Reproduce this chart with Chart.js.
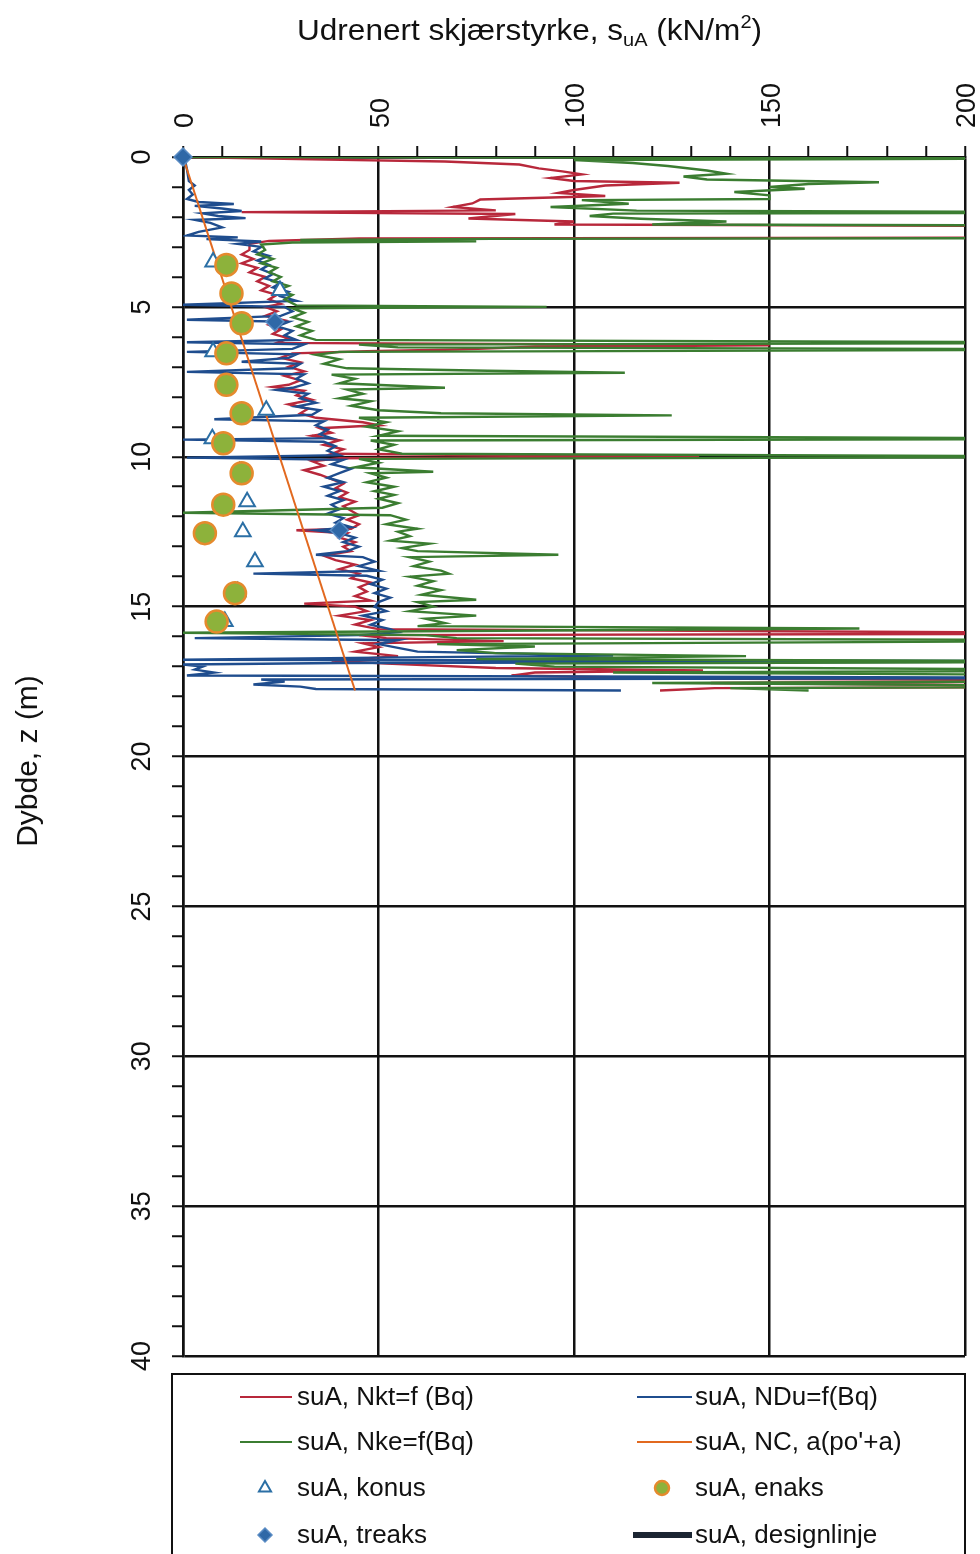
<!DOCTYPE html>
<html>
<head>
<meta charset="utf-8">
<script src="https://cdn.jsdelivr.net/npm/chart.js@4.4.0/dist/chart.umd.min.js"></script>
<style>
  html, body { margin: 0; padding: 0; background: #fff; }
</style>
</head>
<body>
<canvas id="mychart" width="980" height="1554"></canvas>
<script>
// tick labels
const xTickLabels = [0, 50, 100, 150, 200];
const yTickLabels = [0, 5, 10, 15, 20, 25, 30, 35, 40];

// CPT profiles, [depth (m), suA (kN/m2)]
const nktProfile = [
  [0.00, 0], [0.08, 33], [0.15, 67], [0.25, 86], [0.38, 91], [0.48, 97], [0.58, 102], [0.70, 94],
  [0.80, 100], [0.86, 127], [0.95, 108], [1.10, 100], [1.20, 96], [1.30, 108], [1.42, 76], [1.55, 74],
  [1.67, 69], [1.78, 80], [1.84, 15], [1.90, 85], [2.05, 73], [2.15, 100], [2.25, 95], [2.32, 260],
  [2.68, 260], [2.72, 45], [2.80, 22], [2.90, 17], [3.10, 17], [3.25, 15], [3.40, 18], [3.55, 15],
  [3.70, 19], [3.85, 17], [4.00, 21], [4.15, 19], [4.30, 22], [4.45, 20], [4.60, 24], [4.75, 22],
  [4.90, 25], [5.00, 21], [5.15, 24], [5.30, 21], [5.45, 26], [5.60, 22], [5.75, 25], [5.90, 23],
  [6.05, 27], [6.20, 24], [6.28, 150], [6.33, 90], [6.42, 70], [6.48, 47], [6.55, 28], [6.70, 25],
  [6.85, 30], [7.00, 27], [7.15, 31], [7.30, 26], [7.45, 30], [7.60, 27], [7.67, 23], [7.80, 31],
  [7.95, 29], [8.10, 33], [8.25, 27], [8.40, 32], [8.55, 30], [8.70, 34], [8.85, 46], [8.95, 50],
  [9.05, 35], [9.20, 38], [9.30, 33], [9.45, 40], [9.60, 36], [9.75, 41], [9.90, 38], [10.00, 132],
  [10.05, 40], [10.15, 33], [10.30, 36], [10.45, 31], [10.60, 35], [10.75, 38], [10.90, 41], [11.05, 39],
  [11.20, 42], [11.35, 40], [11.50, 44], [11.65, 41], [11.80, 43], [11.95, 45], [12.10, 42], [12.25, 45],
  [12.40, 43], [12.45, 29], [12.55, 42], [12.70, 40], [12.85, 44], [13.00, 41], [13.15, 43], [13.30, 36],
  [13.45, 39], [13.60, 44], [13.75, 40], [13.90, 45], [14.05, 43], [14.20, 48], [14.35, 45], [14.50, 47],
  [14.65, 44], [14.80, 48], [14.90, 31], [15.00, 44], [15.15, 47], [15.30, 40], [15.45, 48], [15.60, 44],
  [15.75, 50], [15.90, 260], [15.95, 45], [16.05, 52], [16.15, 82], [16.22, 46], [16.35, 50], [16.50, 44],
  [16.65, 55], [16.80, 38], [16.90, 52], [17.05, 80], [17.13, 133], [17.20, 90], [17.30, 84], [17.40, 129],
  [17.47, 260], [17.55, 135], [17.67, 260], [17.72, 136], [17.80, 122]
];

const nduProfile = [
  [0.00, 0], [0.10, 0.5], [0.40, 1], [0.80, 1.5], [0.95, 3], [1.10, 1.5], [1.25, 2.5], [1.40, 1],
  [1.50, 4], [1.57, 13], [1.63, 3], [1.72, 10], [1.80, 15], [1.88, 5], [1.97, 9], [2.04, 16],
  [2.10, 3], [2.20, 7], [2.35, 10], [2.50, 4], [2.62, 1], [2.68, 14], [2.74, 6], [2.82, 20],
  [2.90, 14], [3.00, 20], [3.15, 18], [3.30, 22], [3.45, 19], [3.60, 22], [3.75, 20], [3.90, 23],
  [4.05, 21], [4.20, 25], [4.35, 23], [4.50, 27], [4.65, 25], [4.80, 29], [4.93, 0], [5.00, 26],
  [5.15, 28], [5.30, 25], [5.43, 1], [5.50, 27], [5.65, 24], [5.80, 28], [5.95, 26], [6.10, 29],
  [6.18, 1], [6.25, 31], [6.40, 28], [6.50, 1], [6.58, 29], [6.70, 27], [6.83, 15], [6.90, 30],
  [7.05, 28], [7.17, 1], [7.25, 31], [7.40, 29], [7.55, 32], [7.70, 28], [7.77, 24], [7.90, 32],
  [8.05, 30], [8.20, 34], [8.33, 29], [8.45, 35], [8.60, 33], [8.75, 8], [8.82, 36], [8.95, 34],
  [9.10, 37], [9.25, 35], [9.38, 38], [9.43, 0], [9.50, 36], [9.65, 39], [9.80, 37], [9.95, 40],
  [10.03, 1], [10.10, 41], [10.25, 38], [10.40, 43], [10.55, 40], [10.70, 37], [10.85, 41], [11.00, 36],
  [11.15, 40], [11.30, 37], [11.45, 41], [11.60, 38], [11.75, 40], [11.90, 37], [12.05, 41], [12.20, 39],
  [12.35, 43], [12.45, 34], [12.55, 40], [12.70, 44], [12.85, 41], [13.00, 45], [13.15, 42], [13.27, 34],
  [13.35, 46], [13.50, 49], [13.65, 45], [13.80, 50], [13.90, 18], [13.97, 47], [14.10, 51], [14.25, 48],
  [14.40, 52], [14.55, 49], [14.70, 53], [14.85, 50], [15.00, 49], [15.15, 52], [15.30, 46], [15.45, 51],
  [15.60, 48], [15.75, 53], [15.85, 55], [15.95, 45], [16.05, 3], [16.12, 55], [16.25, 50], [16.40, 56],
  [16.50, 60], [16.63, 110], [16.70, 50], [16.77, 0], [16.83, 260], [16.88, 40], [16.93, 0], [17.00, 5],
  [17.10, 3], [17.20, 8], [17.30, 1], [17.38, 260], [17.43, 20], [17.50, 26], [17.60, 18], [17.67, 30],
  [17.75, 34], [17.80, 112]
];

const nkeProfile = [
  [0.00, 0], [0.03, 260], [0.10, 100], [0.20, 115], [0.30, 124], [0.45, 134], [0.56, 139], [0.65, 128],
  [0.75, 134], [0.84, 178], [0.90, 160], [1.00, 150], [1.06, 159], [1.17, 141], [1.28, 150], [1.40, 150],
  [1.44, 102], [1.56, 114], [1.67, 94], [1.79, 116], [1.85, 260], [1.89, 110], [1.97, 104], [2.06, 117],
  [2.15, 139], [2.25, 120], [2.30, 260], [2.70, 260], [2.73, 79], [2.77, 30], [2.81, 75], [2.85, 28],
  [2.92, 20], [3.10, 21], [3.25, 19], [3.40, 23], [3.55, 20], [3.70, 24], [3.85, 22], [4.00, 25],
  [4.15, 23], [4.30, 27], [4.45, 24], [4.60, 28], [4.75, 26], [4.95, 29], [5.00, 93], [5.05, 28],
  [5.20, 31], [5.35, 28], [5.50, 32], [5.65, 29], [5.80, 33], [5.95, 30], [6.10, 34], [6.20, 260],
  [6.26, 45], [6.35, 55], [6.42, 260], [6.50, 40], [6.60, 34], [6.75, 40], [6.90, 36], [7.05, 42],
  [7.13, 78], [7.20, 113], [7.26, 38], [7.40, 44], [7.55, 40], [7.70, 67], [7.76, 42], [7.90, 46],
  [8.05, 40], [8.15, 48], [8.30, 43], [8.45, 50], [8.55, 66], [8.62, 125], [8.70, 45], [8.85, 52],
  [9.00, 47], [9.15, 55], [9.30, 50], [9.40, 260], [9.46, 48], [9.60, 54], [9.75, 50], [9.90, 56],
  [10.00, 260], [10.07, 45], [10.20, 50], [10.35, 44], [10.50, 64], [10.55, 48], [10.70, 52], [10.85, 47],
  [11.00, 54], [11.15, 49], [11.27, 54], [11.40, 50], [11.55, 55], [11.70, 51], [11.87, 0], [11.95, 53],
  [12.10, 57], [12.25, 52], [12.40, 60], [12.50, 55], [12.65, 58], [12.80, 53], [12.90, 63], [13.05, 56],
  [13.15, 60], [13.27, 96], [13.35, 58], [13.50, 63], [13.65, 59], [13.80, 66], [13.90, 68], [14.00, 58],
  [14.15, 64], [14.30, 60], [14.45, 66], [14.60, 61], [14.77, 75], [14.85, 60], [15.00, 64], [15.15, 58],
  [15.30, 75], [15.40, 62], [15.55, 67], [15.65, 60], [15.73, 173], [15.87, 0], [15.95, 62], [16.05, 70],
  [16.13, 260], [16.25, 65], [16.33, 90], [16.45, 70], [16.55, 80], [16.65, 144], [16.75, 75], [16.83, 260],
  [16.90, 85], [17.00, 95], [17.13, 260], [17.20, 110], [17.30, 260], [17.47, 260], [17.55, 120], [17.67, 260],
  [17.72, 140], [17.80, 160]
];

// NC line a(po'+a)
const ncLine = [[0, 0], [17.8, 44]];

// laboratory / cone points, [depth, suA]
const konusPoints = [
  [3.5, 7.7], [4.45, 24.8], [6.5, 7.7], [8.45, 21.3], [9.4, 7.5], [10.5, 14.5],
  [11.5, 16.4], [12.5, 15.3], [13.5, 18.4], [14.5, 14], [15.5, 10.7]
];
const enaksPoints = [
  [3.6, 11.1], [4.55, 12.4], [5.55, 15], [6.55, 11.1], [7.6, 11.1], [8.55, 15],
  [9.55, 10.3], [10.55, 15], [11.6, 10.3], [12.55, 5.6], [14.55, 13.3], [15.5, 8.6]
];
const treaksPoints = [[0, 0], [5.5, 23.5], [12.45, 40]];
const designLine = [];

const FONT = '"Liberation Sans", Arial, sans-serif';

function toXY(list) {
  return list.map(p => ({ x: p[1], y: p[0] }));
}

const decor = {
  id: 'decor',
  afterDraw(chart) {
    const ctx = chart.ctx;
    const ys = chart.scales.y;

    // y tick labels, rotated
    ctx.save();
    ctx.fillStyle = '#111';
    ctx.font = '27px ' + FONT;
    ctx.textAlign = 'center';
    ctx.textBaseline = 'middle';
    yTickLabels.forEach(v => {
      ctx.save();
      ctx.translate(143, ys.getPixelForValue(v));
      ctx.rotate(-Math.PI / 2);
      ctx.fillText(String(v), 0, 0);
      ctx.restore();
    });
    ctx.restore();

    // y title
    ctx.save();
    ctx.fillStyle = '#111';
    ctx.font = '30px ' + FONT;
    ctx.textAlign = 'center';
    ctx.textBaseline = 'middle';
    ctx.translate(29, 761);
    ctx.rotate(-Math.PI / 2);
    ctx.fillText('Dybde, z (m)', 0, 0);
    ctx.restore();

    // x title with sub/superscript
    const parts = [
      { t: 'Udrenert skjærstyrke, s', s: 30, dy: 0 },
      { t: 'uA', s: 19, dy: 6 },
      { t: ' (kN/m', s: 30, dy: 0 },
      { t: '2', s: 19, dy: -12 },
      { t: ')', s: 30, dy: 0 }
    ];
    ctx.save();
    let w = 0;
    parts.forEach(p => { ctx.font = p.s + 'px ' + FONT; w += ctx.measureText(p.t).width; });
    const sx = 465 / w;
    ctx.translate(297, 40);
    ctx.scale(sx, 1);
    ctx.fillStyle = '#111';
    ctx.textBaseline = 'alphabetic';
    let cx = 0;
    parts.forEach(p => {
      ctx.font = p.s + 'px ' + FONT;
      ctx.fillText(p.t, cx, p.dy);
      cx += ctx.measureText(p.t).width;
    });
    ctx.restore();

    // legend box
    ctx.save();
    ctx.strokeStyle = '#111';
    ctx.lineWidth = 2;
    ctx.strokeRect(172, 1374, 793, 200);
    ctx.font = '26px ' + FONT;
    ctx.textBaseline = 'middle';
    ctx.fillStyle = '#111';
    const ds = chart.data.datasets;
    const rows = [1397, 1442, 1488, 1535];
    const cols = [{ l0: 240, l1: 292, m: 265, t: 297 }, { l0: 637, l1: 692, m: 662, t: 695 }];
    ds.forEach((d, i) => {
      const col = cols[i % 2];
      const y = rows[Math.floor(i / 2)];
      if (d.showLine) {
        ctx.strokeStyle = d.borderColor;
        ctx.lineWidth = d.borderWidth > 3 ? 6 : 2;
        ctx.beginPath();
        ctx.moveTo(d.borderWidth > 3 ? col.l0 - 4 : col.l0, y);
        ctx.lineTo(col.l1, y);
        ctx.stroke();
      } else {
        ctx.fillStyle = d.backgroundColor;
        ctx.strokeStyle = d.borderColor;
        ctx.lineWidth = d.borderWidth;
        Chart.helpers.drawPoint(ctx, {
          pointStyle: d.pointStyle, radius: d.legendRadius, rotation: 0, borderWidth: d.borderWidth
        }, col.m, y);
      }
      ctx.fillStyle = '#111';
      ctx.fillText(d.label, col.t, y + 1);
    });
    ctx.restore();
  }
};

const lineBase = { showLine: true, pointRadius: 0, borderWidth: 2.4, tension: 0 };

const ctx = document.getElementById('mychart').getContext('2d');
const chart = new Chart(ctx, {
  type: 'scatter',
  data: {
    datasets: [
      Object.assign({ label: 'suA, Nkt=f (Bq)', data: toXY(nktProfile), borderColor: '#b8283b', order: 7 }, lineBase),
      Object.assign({ label: 'suA, NDu=f(Bq)', data: toXY(nduProfile), borderColor: '#1f4d8e', order: 6 }, lineBase),
      Object.assign({ label: 'suA, Nke=f(Bq)', data: toXY(nkeProfile), borderColor: '#3b7d31', order: 5 }, lineBase),
      Object.assign({ label: "suA, NC, a(po'+a)", data: toXY(ncLine), borderColor: '#e2691f', order: 4 }, lineBase, { borderWidth: 2 }),
      { label: 'suA, konus', data: toXY(konusPoints), showLine: false, pointStyle: 'triangle', pointRadius: 9,
        legendRadius: 7, backgroundColor: '#ffffff', borderColor: '#2b6fa5', borderWidth: 2, clip: false, order: 3 },
      { label: 'suA, enaks', data: toXY(enaksPoints), showLine: false, pointStyle: 'circle', pointRadius: 11,
        legendRadius: 7, backgroundColor: '#8db23b', borderColor: '#e58a2d', borderWidth: 2.5, clip: false, order: 2 },
      { label: 'suA, treaks', data: toXY(treaksPoints), showLine: false, pointStyle: 'rectRot', pointRadius: 9,
        legendRadius: 7, backgroundColor: '#2f68a7', borderColor: '#5a8cc4', borderWidth: 1.5, clip: false, order: 1 },
      Object.assign({ label: 'suA, designlinje', data: toXY(designLine), borderColor: '#1b2532', order: 0 }, lineBase, { borderWidth: 6 })
    ]
  },
  options: {
    responsive: false,
    animation: false,
    layout: { padding: { left: 0, top: 0, right: 15, bottom: 198 } },
    plugins: {
      legend: { display: false },
      tooltip: { enabled: false }
    },
    scales: {
      x: {
        type: 'linear',
        position: 'top',
        min: 0,
        max: 200,
        ticks: {
          stepSize: 10,
          autoSkip: false,
          minRotation: 90,
          maxRotation: 90,
          padding: 18,
          labelOffset: 35,
          color: '#111',
          font: { family: FONT, size: 27 },
          callback: v => xTickLabels.includes(v) ? String(v) : ''
        },
        grid: {
          color: c => (c.tick && c.tick.value % 50 === 0) ? '#111' : 'rgba(0,0,0,0)',
          lineWidth: 2.5,
          tickColor: '#111',
          tickWidth: 2,
          tickLength: 11
        },
        border: { color: '#111', width: 2.5 },
        afterFit: s => { s.height = 157; s.paddingLeft = 0; s.paddingRight = 0; }
      },
      y: {
        type: 'linear',
        reverse: true,
        min: 0,
        max: 40,
        ticks: { stepSize: 1, display: false },
        grid: {
          color: c => (c.tick && c.tick.value % 5 === 0) ? '#111' : 'rgba(0,0,0,0)',
          lineWidth: 2.5,
          tickColor: '#111',
          tickWidth: 2,
          tickLength: 11
        },
        border: { color: '#111', width: 2.5 },
        afterFit: s => { s.width = 183; s.paddingTop = 0; s.paddingBottom = 0; }
      }
    }
  },
  plugins: [decor]
});
</script>
</body>
</html>
